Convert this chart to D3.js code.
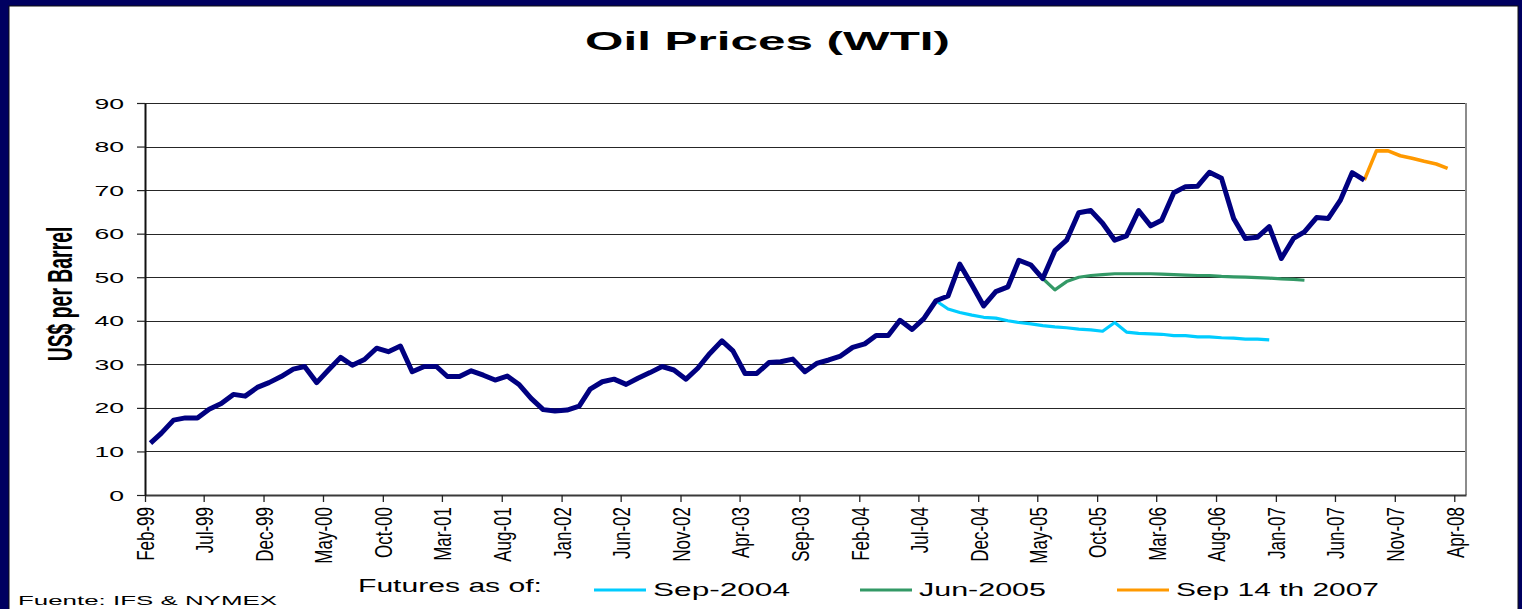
<!DOCTYPE html>
<html>
<head>
<meta charset="utf-8">
<script src="https://cdn.jsdelivr.net/npm/d3@7"></script>
<style>
  html, body { margin: 0; padding: 0; background: #000060; overflow: hidden; }
  svg { display: block; }
  text { font-family: 'Liberation Sans', Arial, sans-serif; fill: #000; }
</style>
</head>
<body>
<div id="chart"></div>
<script>
// monthly WTI spot, first value is Feb-99
const wtiStart = '1999-02';
const wti = [
  11.9, 14.2, 17.2, 17.7, 17.7, 19.7, 21.0, 23.1, 22.7, 24.7, 25.8, 27.2,
  28.9, 29.5, 25.8, 28.7, 31.6, 29.8, 31.1, 33.7, 32.9, 34.2, 28.3, 29.5,
  29.5, 27.2, 27.2, 28.5, 27.5, 26.4, 27.3, 25.3, 22.2, 19.6, 19.3, 19.5,
  20.4, 24.3, 26.0, 26.6, 25.4, 26.8, 28.1, 29.5, 28.7, 26.6, 29.1, 32.5,
  35.4, 33.1, 27.9, 27.9, 30.4, 30.6, 31.2, 28.3, 30.2, 31.0, 31.9, 33.9,
  34.7, 36.6, 36.6, 40.1, 38.0, 40.5, 44.6, 45.7, 53.0, 48.2, 43.4, 46.7,
  47.8, 53.9, 52.8, 49.7, 56.1, 58.5, 64.8, 65.3, 62.4, 58.5, 59.5, 65.3,
  61.8, 63.1, 69.4, 70.8, 70.9, 74.1, 72.7, 63.5, 58.9, 59.2, 61.6, 54.3,
  58.9, 60.4, 63.7, 63.5, 67.7, 74.0, 72.3
];

// futures curves (each starts on the spot month it was quoted from)
const futSep04Start = '2004-08';
const futSep04 = [
  44.6, 42.7, 41.9, 41.3, 40.8, 40.6, 40.0, 39.6, 39.3, 38.9, 38.6, 38.4,
  38.1, 37.9, 37.6, 39.6, 37.4, 37.1, 37.0, 36.9, 36.6, 36.6, 36.3, 36.3,
  36.1, 36.0, 35.8, 35.8, 35.6
];
const futJun05Start = '2005-05';
const futJun05 = [
  49.7, 47.1, 49.0, 50.0, 50.4, 50.6, 50.8, 50.8, 50.8, 50.8, 50.7, 50.6,
  50.5, 50.4, 50.4, 50.2, 50.1, 50.0, 49.9, 49.8, 49.6, 49.5, 49.3
];
const futSep07Start = '2007-08';
const futSep07 = [72.3, 79.0, 79.0, 77.9, 77.3, 76.6, 76.0, 75.0];

const yTicks = [0, 10, 20, 30, 40, 50, 60, 70, 80, 90];
const legendKeys = ['Sep-2004', 'Jun-2005', 'Sep 14 th 2007'];
const legendColors = ['#00ccff', '#339966', '#ff9900'];

const W = 1522, H = 609;
const parseMonth = d3.utcParse('%Y-%m');

// monthly averages sit mid-month on a date axis
const toPoints = (start, values) => values.map((v, i) => ({
  date: d3.utcDay.offset(d3.utcMonth.offset(parseMonth(start), i), 14),
  value: v,
}));

const svg = d3.select('#chart').append('svg')
  .attr('width', W)
  .attr('height', H);

// slide frame
svg.append('rect')
  .attr('x', 9).attr('y', 6)
  .attr('width', 1509).attr('height', H)
  .attr('fill', '#fff')
  .attr('stroke', '#111')
  .attr('stroke-width', 1);

const plot = {left: 145, right: 1466, top: 103, bottom: 495};

const x = d3.scaleUtc()
  .domain([parseMonth('1999-02'), parseMonth('2008-05')])
  .range([plot.left, plot.right]);

const y = d3.scaleLinear()
  .domain([0, 90])
  .range([plot.bottom, plot.top]);

// title
svg.append('text')
  .attr('x', 767.5)
  .attr('y', 50)
  .attr('text-anchor', 'middle')
  .attr('textLength', 365)
  .attr('lengthAdjust', 'spacingAndGlyphs')
  .style('font-size', '26.5px')
  .style('font-weight', 'bold')
  .text('Oil Prices (WTI)');

// gridlines
svg.append('g')
  .selectAll('line')
  .data(yTicks.filter(t => t > 0))
  .enter().append('line')
    .attr('x1', plot.left)
    .attr('x2', plot.right)
    .attr('y1', d => Math.round(y(d)) + 0.5)
    .attr('y2', d => Math.round(y(d)) + 0.5)
    .attr('stroke', '#262626')
    .attr('stroke-width', 1.2);

// right edge of plot area
svg.append('line')
  .attr('x1', plot.right).attr('x2', plot.right)
  .attr('y1', plot.top).attr('y2', plot.bottom)
  .attr('stroke', '#8c8c8c')
  .attr('stroke-width', 2);

// x axis
const xTickValues = d3.utcMonth.range(parseMonth('1999-02'), parseMonth('2008-05'), 5);
const xAxis = svg.append('g')
  .attr('transform', `translate(0,${plot.bottom})`)
  .call(d3.axisBottom(x)
    .tickValues(xTickValues)
    .tickFormat(d3.utcFormat('%b-%y'))
    .tickSize(7)
    .tickSizeOuter(0));
xAxis.select('.domain').attr('stroke', '#3a3a3a').attr('stroke-width', 2);
xAxis.selectAll('.tick line').attr('stroke', '#222').attr('stroke-width', 1.3);
xAxis.selectAll('.tick text')
  .attr('x', null)
  .attr('y', null)
  .attr('dy', '0.36em')
  .attr('text-anchor', 'end')
  .attr('transform', 'translate(0,12) scale(1.45,1) rotate(-90)')
  .style('font-size', '17px')
  .style('font-family', "'Liberation Sans', Arial, sans-serif")
  .attr('fill', '#000');

// y axis
const yAxis = svg.append('g')
  .attr('transform', `translate(${plot.left},0)`)
  .call(d3.axisLeft(y)
    .tickValues(yTicks)
    .tickSize(8)
    .tickSizeOuter(0));
yAxis.select('.domain').attr('stroke', '#111').attr('stroke-width', 2);
yAxis.selectAll('.tick line').attr('stroke', '#222').attr('stroke-width', 1.2);
yAxis.selectAll('.tick text')
  .attr('x', -21 / 1.9)
  .attr('dy', '0.36em')
  .attr('transform', 'scale(1.9,1)')
  .style('font-size', '14px')
  .style('font-family', "'Liberation Sans', Arial, sans-serif")
  .attr('fill', '#000');

// y axis title
svg.append('text')
  .attr('transform', 'translate(72,294) scale(1.8,1) rotate(-90)')
  .attr('text-anchor', 'middle')
  .style('font-size', '19.4px')
  .style('font-weight', 'bold')
  .text('US$ per Barrel');

// series
const line = d3.line()
  .x(d => x(d.date))
  .y(d => y(d.value));

const series = [
  {points: toPoints(futSep04Start, futSep04), color: legendColors[0], width: 3.2},
  {points: toPoints(futJun05Start, futJun05), color: legendColors[1], width: 3.2},
  {points: toPoints(futSep07Start, futSep07), color: legendColors[2], width: 3.6},
  {points: toPoints(wtiStart, wti), color: '#000080', width: 5},
];

svg.append('g')
  .selectAll('path')
  .data(series)
  .enter().append('path')
    .attr('d', d => line(d.points))
    .attr('fill', 'none')
    .attr('stroke', d => d.color)
    .attr('stroke-width', d => d.width)
    .attr('stroke-linejoin', 'round');

// legend
svg.append('text')
  .attr('x', 358)
  .attr('y', 592)
  .attr('textLength', 184)
  .attr('lengthAdjust', 'spacingAndGlyphs')
  .style('font-size', '18px')
  .text('Futures as of:');

const legendX = [594, 860, 1117];
const legendTextLen = [137, 127, 203];
const legend = svg.append('g')
  .selectAll('g')
  .data(legendKeys)
  .enter().append('g')
    .attr('transform', (d, i) => `translate(${legendX[i]},0)`);

legend.append('line')
  .attr('x1', 0).attr('x2', 52)
  .attr('y1', 590).attr('y2', 590)
  .attr('stroke', (d, i) => legendColors[i])
  .attr('stroke-width', 3.2);

legend.append('text')
  .attr('x', 59)
  .attr('y', 596)
  .attr('textLength', (d, i) => legendTextLen[i])
  .attr('lengthAdjust', 'spacingAndGlyphs')
  .style('font-size', '18.5px')
  .text(d => d);

// source note
svg.append('text')
  .attr('x', 18)
  .attr('y', 605)
  .attr('textLength', 259)
  .attr('lengthAdjust', 'spacingAndGlyphs')
  .style('font-size', '13px')
  .text('Fuente: IFS & NYMEX');
</script>
</body>
</html>
